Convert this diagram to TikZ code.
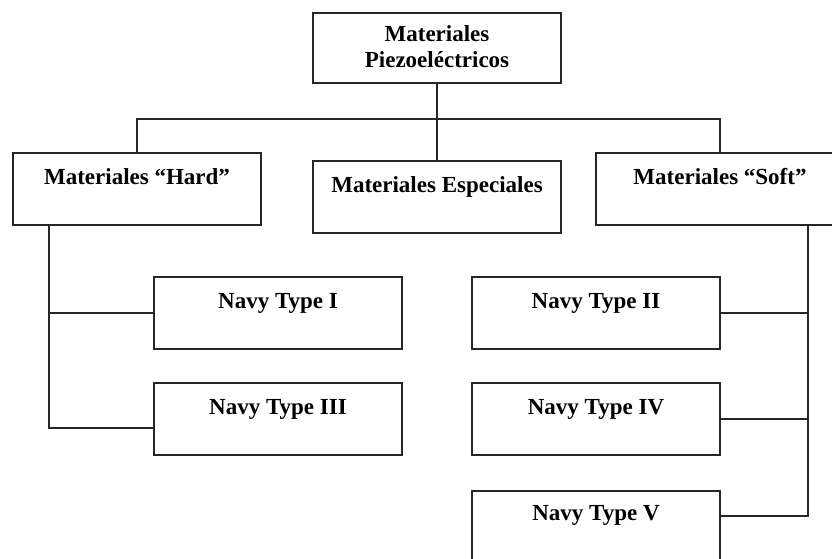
\documentclass[tikz,border=0pt]{standalone}
\usepackage{fontspec}
\setmainfont{Liberation Serif}
\begin{document}
\begin{tikzpicture}[x=1pt,y=-1pt,
  box/.style={draw=black!85,line width=1.2pt,minimum width=248pt,minimum height=72pt,inner sep=0pt,fill=white},
  lbl/.style={anchor=base,inner sep=0pt,font=\fontsize{23}{26}\selectfont\bfseries},
  conn/.style={draw=black!85,line width=1.2pt}]
\useasboundingbox (0,0) rectangle (832,559);
\node[box,minimum height=70pt] (top) at (437,48) {};
\node[box] (hard) at (137,189) {};
\node[box] (esp) at (437,197) {};
\node[box] (soft) at (720,189) {};
\node[box] (n1) at (278,313) {};
\node[box] (n3) at (278,419) {};
\node[box] (n2) at (596,313) {};
\node[box] (n4) at (596,419) {};
\node[box] (n5) at (596,527) {};
% texts
\node[lbl] (topA) at (437,42) {Materiales};
\node[lbl] (topB) at (437,68) {Piezoeléctricos};
\node[lbl] (hardT) at (137,184) {Materiales “Hard”};
\node[lbl] (espT) at (437,192) {Materiales Especiales};
\node[lbl] (softT) at (720,184) {Materiales “Soft”};
\node[lbl] (n1T) at (278,308) {Navy Type I};
\node[lbl] (n3T) at (278,414) {Navy Type III};
\node[lbl] (n2T) at (596,308) {Navy Type II};
\node[lbl] (n4T) at (596,414) {Navy Type IV};
\node[lbl] (n5T) at (596,520) {Navy Type V};
% connectors
\coordinate (bus) at (437,119);
\draw[conn] (top.south) -- (bus);
\draw[conn] (hard.north) -- (hard.north |- bus) -- (soft.north |- bus) -- (soft.north);
\draw[conn] (bus) -- (esp.north);
\coordinate (lft) at ([xshift=-88pt]hard.south);
\coordinate (rgt) at ([xshift=88pt]soft.south);
\draw[conn] (lft) |- ([yshift=-9pt]n3.west);
\draw[conn] (n1.west) -- (n1.west -| lft);
\draw[conn] (rgt) |- ([yshift=11pt]n5.east);
\draw[conn] (n2.east) -- (n2.east -| rgt);
\draw[conn] (n4.east) -- (n4.east -| rgt);
\end{tikzpicture}
\end{document}
